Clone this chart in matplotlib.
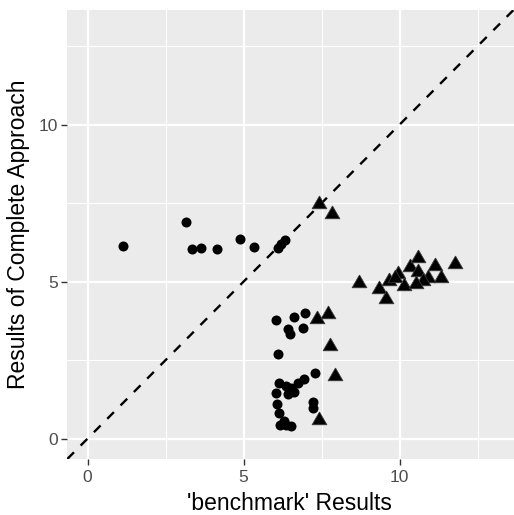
import matplotlib
matplotlib.use("Agg")
import matplotlib.pyplot as plt

# circles (group 1)
circle_x = [1.14, 3.15, 3.36, 3.65, 4.16, 4.90, 5.34, 6.09, 6.20, 6.34,
            6.04, 6.63, 6.97, 6.42, 6.49, 6.89, 6.11,
            7.29, 6.92, 6.73, 6.14, 6.36, 6.52, 6.04, 6.41, 6.63, 7.21, 7.24,
            6.07, 6.14, 6.17, 6.36, 6.52, 6.31]
circle_y = [6.13, 6.91, 6.05, 6.08, 6.03, 6.35, 6.11, 6.08, 6.21, 6.32,
            3.79, 3.87, 3.99, 3.48, 3.34, 3.53, 2.71,
            2.08, 1.91, 1.78, 1.78, 1.67, 1.62, 1.46, 1.41, 1.48, 1.17, 0.99,
            1.09, 0.83, 0.42, 0.42, 0.40, 0.56]

# triangles (group 2)
tri_x = [7.43, 7.83, 8.69, 9.33, 9.56, 9.67, 9.94, 10.15, 10.33, 10.59,
         11.14, 11.78, 11.33, 10.90, 10.58, 10.74, 10.52, 9.85,
         7.35, 7.72, 7.77, 7.92, 7.43]
tri_y = [7.46, 7.14, 4.97, 4.75, 4.44, 5.02, 5.23, 4.86, 5.45, 5.76,
         5.50, 5.55, 5.13, 5.13, 5.29, 5.02, 4.91, 5.10,
         3.82, 3.96, 2.95, 1.99, 0.59]

x_ticks = [0, 5, 10]
y_ticks = [0, 5, 10]
x_label = "'benchmark' Results"
y_label = "Results of Complete Approach"

plt.rcParams['font.family'] = ['Liberation Sans', 'DejaVu Sans']

fig = plt.figure(figsize=(5.14, 5.15), dpi=100)
W, H = 514, 515
left, right, top, bottom = 67.3, 513.5, 10, 459
ax = fig.add_axes([left / W, (H - bottom) / H, (right - left) / W, (bottom - top) / H])
ax.set_facecolor('#EBEBEB')
for s in ax.spines.values():
    s.set_visible(False)

ax.set_xlim(-0.65, 13.65)
ax.set_ylim(-0.65, 13.65)

# grid
for v in [2.5, 7.5, 12.5]:
    ax.axvline(v, color='white', lw=0.8, zorder=0.5)
    ax.axhline(v, color='white', lw=0.8, zorder=0.5)
for v in [0, 5, 10]:
    ax.axvline(v, color='white', lw=1.6, zorder=0.6)
    ax.axhline(v, color='white', lw=1.6, zorder=0.6)

# identity line
ax.axline((0, 0), slope=1, color='black', lw=1.7, dashes=(4, 4), zorder=1)

tri_marker = [(0, 1), (-0.866, -0.5), (0.866, -0.5), (0, 1)]
ax.scatter(circle_x, circle_y, s=52, marker='o', color='black', linewidths=0, zorder=3)
ax.scatter(tri_x, tri_y, s=150, marker=tri_marker, facecolor='black',
           edgecolor='#3a3a3a', linewidths=0.6, zorder=3)

ax.set_xticks(x_ticks)
ax.set_yticks(y_ticks)
ax.set_xticklabels([str(t) for t in x_ticks])
ax.set_yticklabels([str(t) for t in y_ticks])
ax.tick_params(axis='both', length=4.0, width=1.0, color='#333333',
               labelcolor='#4D4D4D', labelsize=12.5)
ax.tick_params(axis='x', pad=4.0)
ax.tick_params(axis='y', pad=3.0)

fig.text(289 / W, (H - 509.5) / H, x_label, fontsize=16.5, color='black',
         ha='center', va='baseline')
fig.text(25 / W, 1 - 234.5 / H, y_label, fontsize=16.5, color='black',
         rotation=90, rotation_mode='anchor', ha='center', va='baseline')

fig.savefig('out.png', dpi=100)
